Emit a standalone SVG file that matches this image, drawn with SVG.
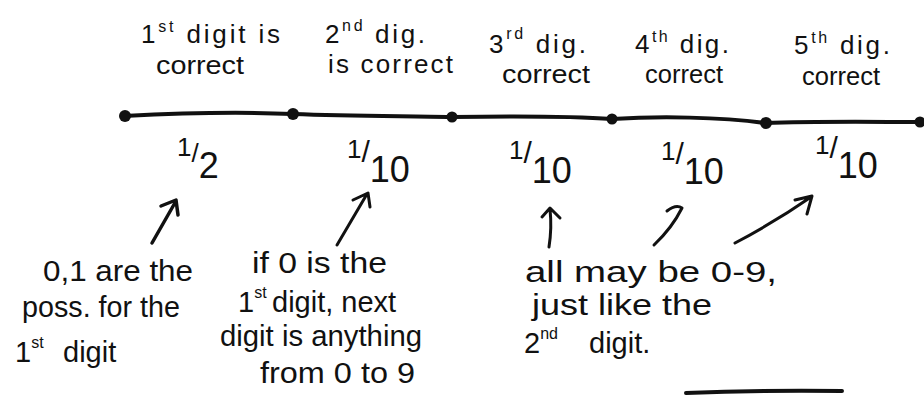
<svg xmlns="http://www.w3.org/2000/svg" width="924" height="395" viewBox="0 0 924 395">
<style>
text{font-family:"Liberation Sans","DejaVu Sans",sans-serif;fill:#111}
.lab{font-size:26px}
.note{font-size:29px}
.sup{font-size:16px}
.frac{font-size:26px}
.ink{fill:none;stroke:#111;stroke-linecap:round;stroke-linejoin:round}
.dot{fill:#111}
</style>
<g id="timeline">
<path class="ink" stroke-width="4" d="M124,116 C200,112 250,112 293,114 C350,116 400,116 452,117 C520,116 570,116 612,119 C660,116 720,117 765,123 C820,121 880,122 919,122"/>
<circle class="dot" cx="125" cy="116" r="6"/>
<circle class="dot" cx="293" cy="114" r="6"/>
<circle class="dot" cx="452" cy="117" r="5.5"/>
<circle class="dot" cx="612" cy="119" r="5.5"/>
<circle class="dot" cx="766" cy="123" r="6"/>
<circle class="dot" cx="920" cy="122" r="5.5"/>
</g>
<g id="step1">
<text class="lab" x="141" y="43" textLength="139" lengthAdjust="spacing">1<tspan class="sup" dy="-11">st</tspan><tspan dy="11"> digit is</tspan></text>
<text class="lab" x="156" y="74" textLength="88" lengthAdjust="spacingAndGlyphs">correct</text>
<text class="frac" x="177" y="156" font-size="34">1<tspan dy="6">/</tspan><tspan dy="16" font-size="36">2</tspan></text>
</g>
<g id="step2">
<text class="lab" x="325" y="43" textLength="100" lengthAdjust="spacing">2<tspan class="sup" dy="-12">nd</tspan><tspan dy="12"> dig.</tspan></text>
<text class="lab" x="328" y="73" textLength="125" lengthAdjust="spacing">is correct</text>
<text class="frac" x="347" y="158">1<tspan dy="4" font-size="30">/</tspan><tspan dy="20" font-size="36">10</tspan></text>
</g>
<g id="step3">
<text class="lab" x="489" y="53" textLength="97" lengthAdjust="spacing">3<tspan class="sup" dy="-14">rd</tspan><tspan dy="14"> dig.</tspan></text>
<text class="lab" x="502" y="83" textLength="88" lengthAdjust="spacingAndGlyphs">correct</text>
<text class="frac" x="509" y="159">1<tspan dy="4" font-size="30">/</tspan><tspan dy="20" font-size="36">10</tspan></text>
</g>
<g id="step4">
<text class="lab" x="635" y="53" textLength="94" lengthAdjust="spacing">4<tspan class="sup" dy="-11">th</tspan><tspan dy="11"> dig.</tspan></text>
<text class="lab" x="645" y="83" textLength="78" lengthAdjust="spacingAndGlyphs">correct</text>
<text class="frac" x="661" y="160">1<tspan dy="4" font-size="30">/</tspan><tspan dy="20" font-size="36">10</tspan></text>
</g>
<g id="step5">
<text class="lab" x="794" y="54" textLength="96" lengthAdjust="spacing">5<tspan class="sup" dy="-11">th</tspan><tspan dy="11"> dig.</tspan></text>
<text class="lab" x="802" y="85" textLength="78" lengthAdjust="spacingAndGlyphs">correct</text>
<text class="frac" x="815" y="154">1<tspan dy="4" font-size="30">/</tspan><tspan dy="20" font-size="36">10</tspan></text>
</g>
<g id="note1">
<text class="note" x="43" y="281" textLength="150" lengthAdjust="spacingAndGlyphs">0,1 are the</text>
<text class="note" x="22" y="317" textLength="158" lengthAdjust="spacingAndGlyphs">poss. for the</text>
<text class="note" x="15" y="362">1<tspan class="sup" dy="-14">st</tspan><tspan x="63" dy="14">digit</tspan></text>
</g>
<g id="note2">
<text class="note" x="252" y="273" textLength="135" lengthAdjust="spacingAndGlyphs">if 0 is the</text>
<text class="note" x="238" y="312">1<tspan class="sup" dy="-14">st</tspan><tspan x="272" dy="14">digit, next</tspan></text>
<text class="note" x="220" y="346" textLength="202" lengthAdjust="spacingAndGlyphs">digit is anything</text>
<text class="note" x="260" y="383" textLength="155" lengthAdjust="spacingAndGlyphs">from 0 to 9</text>
</g>
<g id="note3">
<text class="note" x="525" y="282" textLength="252" lengthAdjust="spacingAndGlyphs">all may be 0-9,</text>
<text class="note" x="532" y="315" textLength="180" lengthAdjust="spacingAndGlyphs">just like the</text>
<text class="note" x="524" y="353">2<tspan class="sup" dy="-14">nd</tspan><tspan x="589" dy="14">digit.</tspan></text>
</g>
<g id="connectors">
<path class="ink" stroke-width="3.5" d="M152,243 L176,201 M161,206 L176,200 L178,215"/>
<path class="ink" stroke-width="3" d="M337,245 L367,194 M353,200 L368,193 L370,207"/>
<path class="ink" stroke-width="3" d="M549,247 Q552,228 550,209 M542,217 L550,208 L560,218"/>
<path class="ink" stroke-width="3" d="M667,211 Q676,204 682,208 Q672,228 654,245"/>
<path class="ink" stroke-width="3" d="M735,243 Q775,222 811,197 M795,200 L812,196 L807,214"/>
</g>
<g id="stroke">
<path class="ink" stroke-width="4" d="M686,393 Q760,390 842,391"/>
</g>
</svg>
